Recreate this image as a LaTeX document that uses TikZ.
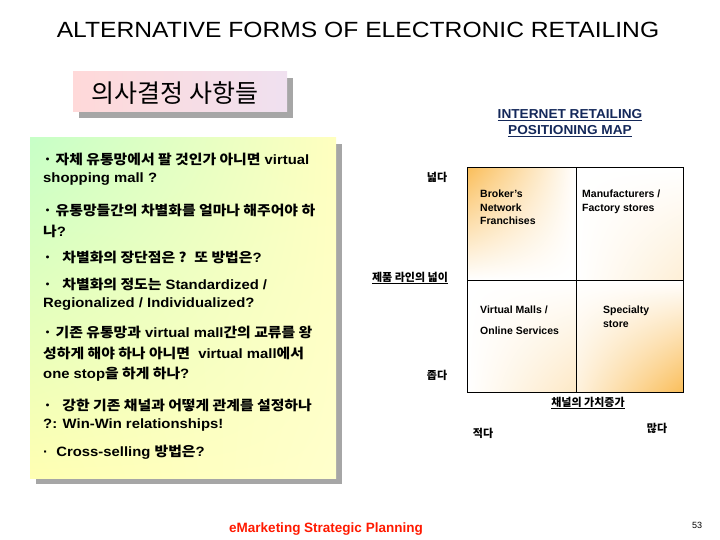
\documentclass[tikz,border=0pt]{standalone}
\usepackage{fontspec}
\usetikzlibrary{shadings}
\setmainfont{Liberation Sans}
\newfontfamily\krf{Noto Sans CJK KR}
\newcommand\K[1]{{\krf #1}}
\definecolor{qor}{RGB}{250,190,90}
\definecolor{navy}{RGB}{20,40,90}
\begin{document}
\begin{tikzpicture}[x=1pt,y=-1pt,
  ln/.style={anchor=west,font=\fontsize{13.5}{14}\selectfont\bfseries,inner sep=0pt,xscale=1.1},
  ax/.style={font=\fontsize{11}{13}\selectfont\bfseries\krf,inner sep=0pt},
  qt/.style={anchor=north west,font=\fontsize{10.5}{13.5}\selectfont\bfseries,align=left,inner sep=0pt}]
\useasboundingbox (0,0) rectangle (720,540);
\node[xscale=1.12] (title) at (358,30) {\fontsize{22}{24}\selectfont ALTERNATIVE FORMS OF ELECTRONIC RETAILING};
% pink box
\fill[gray!70] (79,78) rectangle (293,118);
\shade[left color=pink!60,right color=violet!12] (73,72) rectangle (287,112);
\node (hd) at (172,93) {\fontsize{25}{28}\selectfont\krf\ 의사결정 사항들};
% left box
\fill[gray!70] (36,144) rectangle (342,484);
\shade[upper left=green!22,upper right=yellow!25,lower left=yellow!30,lower right=yellow!20] (30,138) rectangle (336,478);
\node[ln] (l1) at (43,159) {\K{· 자체 유통망에서 팔 것인가 아니면} virtual};
\node[ln] (l2) at (43,179) {shopping mall ?};
\node[ln] (l3) at (43,210) {\K{· 유통망들간의 차별화를 얼마나 해주어야 하}};
\node[ln] (l4) at (43,231) {\K{나}?};
\node[ln] (l5) at (43,257) {\K{·\ \ \ 차별화의 장단점은 ? \ 또 방법은}?};
\node[ln] (l6) at (43,284) {\K{·\ \ \ 차별화의 정도는} Standardized /};
\node[ln] (l7) at (43,304) {Regionalized / Individualized?};
\node[ln] (l8) at (43,332) {\K{· 기존 유통망과} virtual mall\K{간의 교류를 왕}};
\node[ln] (l9) at (43,353) {\K{성하게 해야 하나 아니면} \ virtual mall\K{에서}};
\node[ln] (l10) at (43,374) {one stop\K{을 하게 하나}?};
\node[ln] (l11) at (43,405) {\K{·\ \ \ 강한 기존 채널과 어떻게 관계를 설정하나}};
\node[ln] (l12) at (43,425) {?: Win-Win relationships!};
\node[ln] (l13) at (43,452) {·\ \ Cross-selling \K{방법은}?};
% map title
\node[align=center,text=navy,font=\fontsize{13}{16}\selectfont\bfseries,xscale=1.05] (mt) at (570,123) {\underline{INTERNET RETAILING}\\\underline{POSITIONING MAP}};
% quadrants
\shade[upper left=qor,upper right=white,lower left=white,lower right=white] (467,168) rectangle (576,280);
\shade[upper left=white,upper right=white,lower left=white,lower right=qor!25] (576,168) rectangle (683,280);
\shade[upper left=white,upper right=white,lower left=white,lower right=qor!35] (467,280) rectangle (576,392);
\shade[upper left=white,upper right=white,lower left=qor!20,lower right=qor] (576,280) rectangle (683,392);
\draw[line width=1pt] (467,168) rectangle (683,392);
\draw[line width=1pt] (576,168) -- (576,392) (467,280) -- (683,280);
\node[qt] (q1) at (480,190) {Broker's\\Network\\Franchises};
\node[qt] (q2) at (582,190) {Manufacturers /\\Factory stores};
\node[qt] (q3) at (480,306) {Virtual Malls /};
\node[qt] (q3b) at (480,327) {Online Services};
\node[qt] (q4) at (600,306) {\ Specialty\\\ store};
% axes labels
\node[ax] (wide) at (437,177) {넓다};
\node[ax] (pl) at (410,278) {\underline{제품 라인의 넓이}};
\node[ax] (nar) at (437,375) {좁다};
\node[ax] (cv) at (588,403) {\underline{채널의 가치증가}};
\node[ax] (few) at (483,433) {적다};
\node[ax] (many) at (657,428) {많다};
% footer
\node[text=red!80!orange,font=\fontsize{13.5}{14}\selectfont\bfseries] (ft) at (326,529) {eMarketing Strategic Planning};
\node[font=\fontsize{9}{11}\selectfont] (pg) at (697,525) {53};
\end{tikzpicture}
\end{document}
